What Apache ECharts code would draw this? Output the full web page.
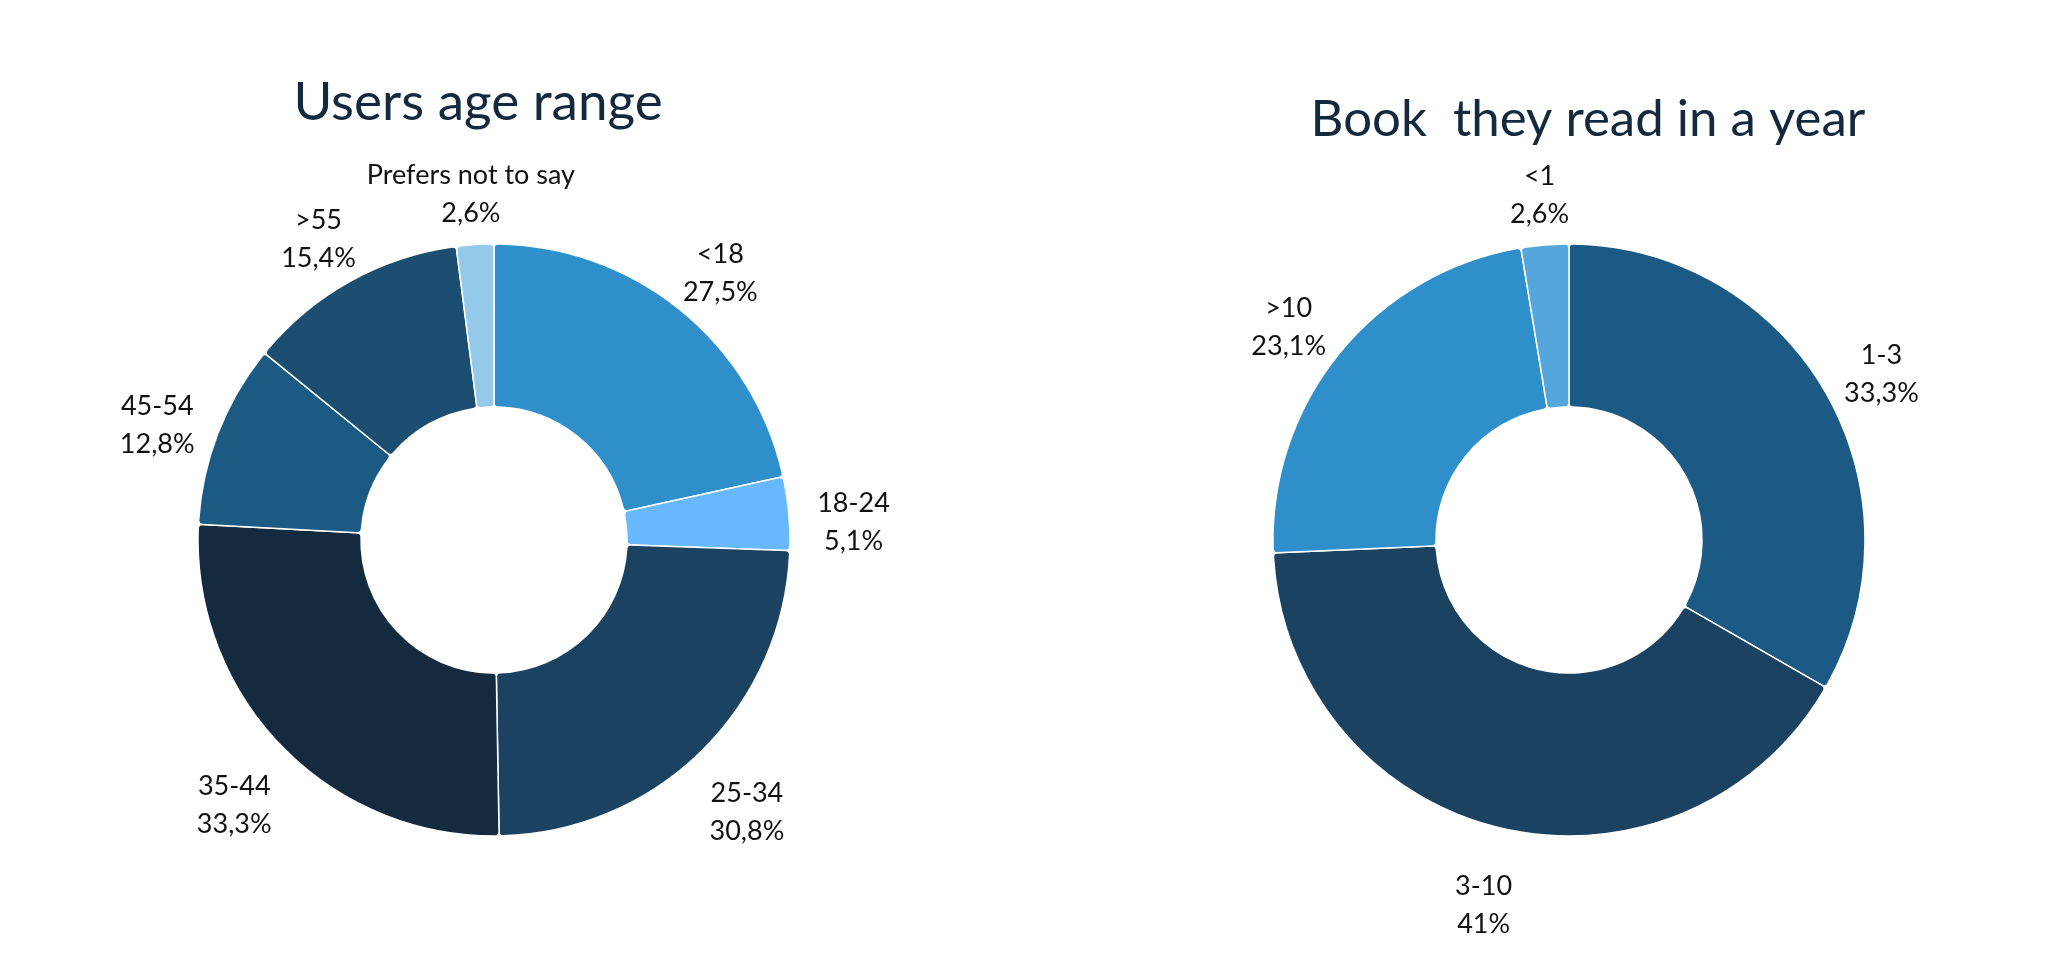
<!DOCTYPE html>
<html>
<head>
<meta charset="utf-8">
<script src="https://cdn.jsdelivr.net/npm/echarts@6/dist/echarts.min.js"></script>
<style>
html,body{margin:0;padding:0;background:#fff;}
#chart{width:2048px;height:979px;}
</style>
</head>
<body>
<div id="chart"></div>
<script>
// ---- Data ----
const ageTitle = 'Users age range';
const ageCategories = ['<18', '18-24', '25-34', '35-44', '45-54', '>55', 'Prefers not to say'];
const ageValues = [27.5, 5.1, 30.8, 33.3, 12.8, 15.4, 2.6];
const ageColors = ['#2F8FCA', '#67B8FE', '#1C4262', '#142B3F', '#1B5A82', '#1B4E71', '#94C9EA'];

const booksTitle = 'Book  they read in a year';
const booksCategories = ['1-3', '3-10', '>10', '<1'];
const booksValues = [33.3, 41, 23.1, 2.6];
const booksColors = ['#1B5A84', '#1C4262', '#2F8FCA', '#55A7DB'];

// ---- Build ----
const fmt = v => String(v).replace('.', ',') + '%';
function mkData(cats, vals, cols) {
  return cats.map((c, i) => ({ name: c, value: vals[i], itemStyle: { color: cols[i] } }));
}
const labelFont = 'Lato, "Noto Sans", sans-serif';

function donut(center, cats, vals, cols) {
  return [
    {
      type: 'pie',
      center: center,
      radius: [133, 296],
      startAngle: 90,
      clockwise: true,
      silent: true,
      avoidLabelOverlap: false,
      itemStyle: { borderColor: '#ffffff', borderWidth: 1.5, borderRadius: 4 },
      label: { show: false },
      labelLine: { show: false },
      data: mkData(cats, vals, cols)
    },
    {
      // label carrier: same data, transparent ring, labels centred on the ring
      type: 'pie',
      center: center,
      radius: [334, 382],
      startAngle: 90,
      clockwise: true,
      silent: true,
      avoidLabelOverlap: false,
      itemStyle: { color: 'rgba(0,0,0,0)', borderWidth: 0 },
      label: {
        show: true,
        position: 'inside',
        formatter: p => p.name + '\n' + fmt(p.value),
        color: '#111111',
        fontFamily: labelFont,
        fontSize: 27,
        lineHeight: 38,
        align: 'center',
        offset: [0, 15]
      },
      labelLine: { show: false },
      data: cats.map((c, i) => ({ name: c, value: vals[i] }))
    }
  ];
}

const chart = echarts.init(document.getElementById('chart'), null, { renderer: 'canvas' });
chart.setOption({
  backgroundColor: '#ffffff',
  animation: false,
  title: [
    {
      text: ageTitle,
      left: 473, top: 71, textAlign: 'center',
      textStyle: { fontFamily: labelFont, fontSize: 53, fontWeight: 'normal', color: '#13293D' }
    },
    {
      text: booksTitle,
      left: 1583, top: 89, textAlign: 'center',
      textStyle: { fontFamily: labelFont, fontSize: 51, fontWeight: 'normal', color: '#13293D' }
    }
  ],
  series: [
    ...donut([494, 540], ageCategories, ageValues, ageColors),
    ...donut([1569, 540], booksCategories, booksValues, booksColors)
  ]
});
</script>
</body>
</html>
